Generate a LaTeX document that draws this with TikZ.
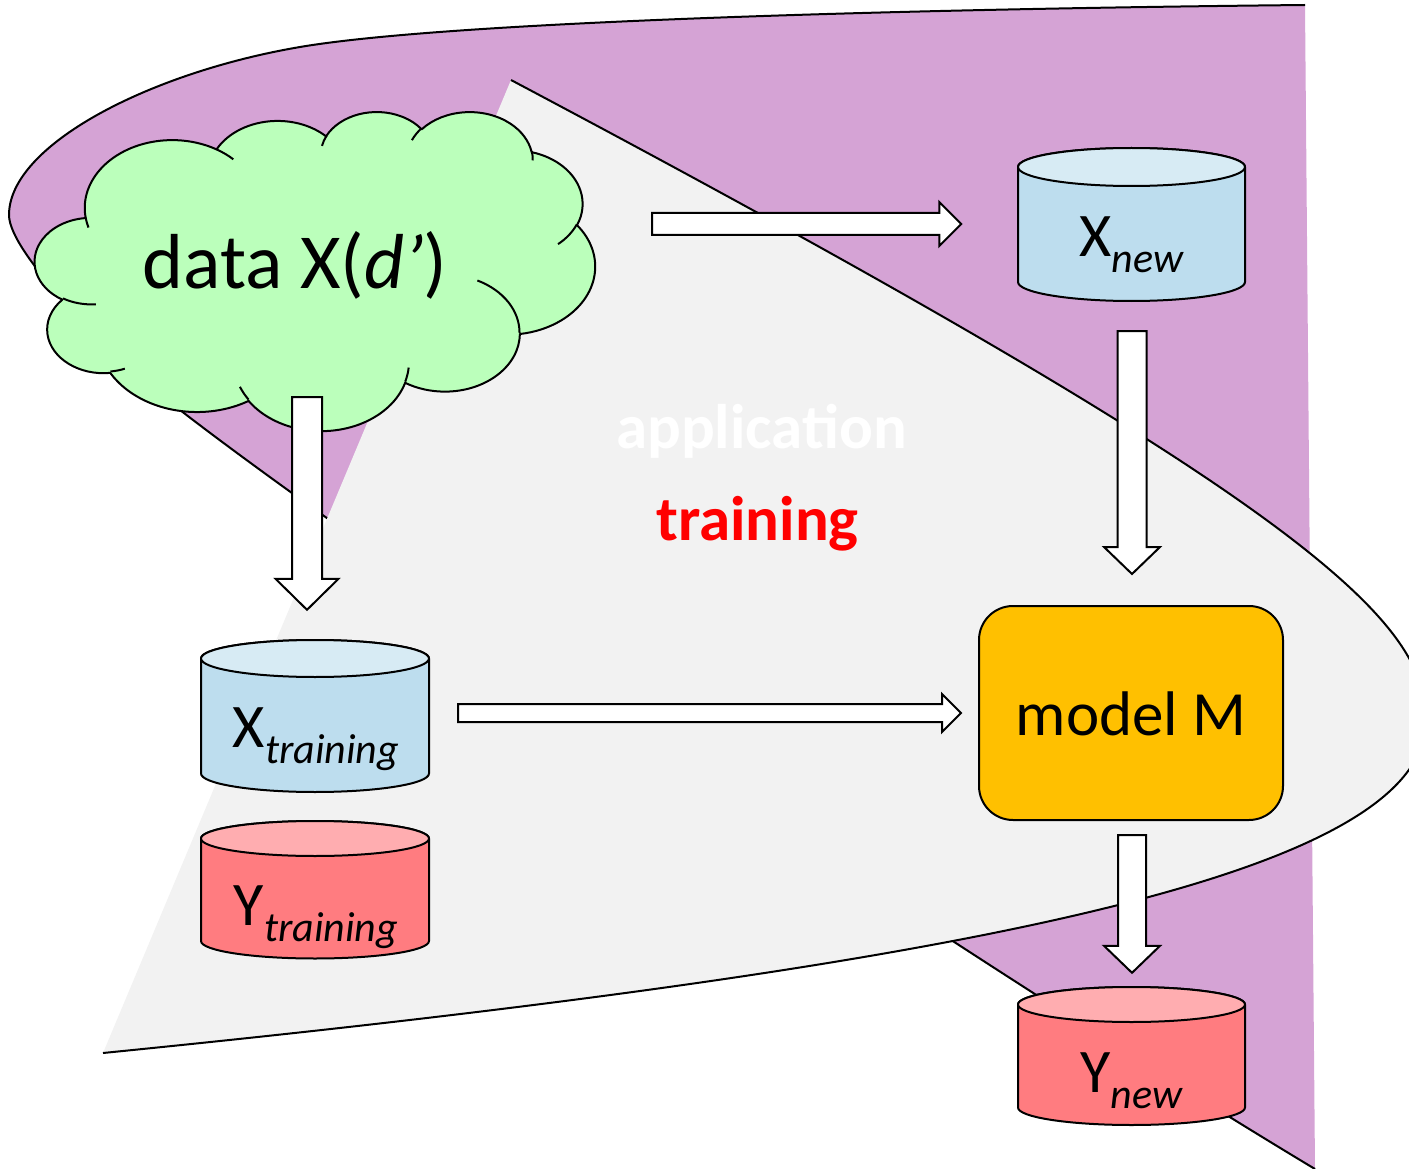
\documentclass[tikz,border=0pt]{standalone}
\usepackage{fontspec}
\setmainfont{Carlito}
\usetikzlibrary{calc}
\definecolor{appl}{HTML}{D5A3D5}
\definecolor{trn}{HTML}{F2F2F2}
\definecolor{cloudg}{HTML}{BBFFBB}
\definecolor{xbody}{HTML}{BDDDEE}
\definecolor{xtop}{HTML}{D7EBF4}
\definecolor{ybody}{HTML}{FF7C80}
\definecolor{ytop}{HTML}{FFADB0}
\definecolor{modelc}{HTML}{FFC000}
\newcommand\pptarc[4]{arc[x radius=#1, y radius=#2, start angle={atan2(#1*sin(#3),#2*cos(#3))}, delta angle={mod(atan2(#1*sin(#3+#4),#2*cos(#3+#4))-atan2(#1*sin(#3),#2*cos(#3))+720,360)}]}
\newcommand\cyl[8]{%
  \node[inner sep=0pt, minimum width={2*#5}, minimum height={#4-#3}] (#1) at ({#2},{(#3+#4)/2}) {};
  \filldraw[fill=#7, ol] ({#2-#5},{#3+#6}) -- ({#2-#5},{#4-#6}) arc[start angle=180, end angle=360, x radius=#5pt, y radius=#6pt] -- ({#2+#5},{#3+#6}) arc[start angle=0, end angle=180, x radius=#5pt, y radius=#6pt] -- cycle;
  \filldraw[fill=#8, ol] ({#2},{#3+#6}) ellipse[x radius=#5pt, y radius=#6pt];
}
\newcommand\blockarrow[5]{%
  \coordinate (ba-h) at ($(#2)!#5!(#1)$);
  \draw[barrow] ($(#1)!#3!90:(#2)$) -- ($(ba-h)!#3!90:(#2)$) -- ($(ba-h)!#4!90:(#2)$) -- (#2) -- ($(ba-h)!#4!-90:(#2)$) -- ($(ba-h)!#3!-90:(#2)$) -- ($(#1)!#3!-90:(#2)$) -- cycle;
}
\newcommand\sub[1]{\raisebox{-16pt}{\fontsize{42}{42}\selectfont\itshape #1}}
\newcommand\applpath{(1305,5) .. controls (905,9) and (450,21.5) .. (300,47) .. controls (150,72.5) and (9,145) .. (9,215) .. controls (9,255) and (120,362.6) .. (180,410) .. controls (400,580) and (1000,980) .. (1315,1169)}
\newcommand\trnpath{(511,80) .. controls (1311,504) and (1426,620) .. (1426,720) .. controls (1426,870) and (1003,963) .. (103,1053)}
\begin{document}
\begin{tikzpicture}[x=1pt,y=-1pt,
  ol/.style={draw=black, line width=2pt, line join=round},
  barrow/.style={draw=black, fill=white, line width=2pt, line join=miter},
  big/.style={font=\fontsize{62}{70}\selectfont, inner sep=0pt, anchor=base}]
\useasboundingbox (0,0) rectangle (1409,1169);
\clip (0,0) rectangle (1409,1169);
% application region
\fill[appl] \applpath -- cycle;
\draw[ol] \applpath;
% training region
\fill[trn] \trnpath -- cycle;
\draw[ol] \trnpath;
\node[inner sep=0pt, anchor=base, text=white, font=\fontsize{63}{70}\selectfont\bfseries] (appt) at (761.5,448) {application};
\node[inner sep=0pt, anchor=base, text=red, font=\fontsize{63}{70}\selectfont\bfseries] (trnt) at (757.5,540) {training};
% cloud
\node[inner sep=0pt, minimum width=560, minimum height=319] (cloud) at (315,270.5) {};
\begin{scope}[shift={(35,111)}, x=0.12963pt, y=-0.073843pt]
\filldraw[fill=cloudg, ol] (390,1437) \pptarc{675.3}{919.0}{-190.4875}{123.7805} \pptarc{533.3}{726.7}{-144.1024}{89.9452} \pptarc{436.5}{594.5}{-145.8079}{99.7230} \pptarc{485.7}{659.5}{-130.9861}{117.2417} \pptarc{533.3}{727.3}{-78.7089}{109.0269} \pptarc{677.5}{922.0}{-46.2673}{130.2690} \pptarc{578.5}{786.7}{0.6250}{114.0333} \pptarc{675.2}{921.5}{22.4516}{115.1726} \pptarc{772.0}{1054.3}{66.2426}{75.7110} \pptarc{436.0}{591.8}{-274.9421}{146.7356} \pptarc{434.5}{594.5}{-246.8285}{152.5189} -- cycle;
\draw[ol] (469.3,2617.7) \pptarc{434.5}{594.5}{86.742}{26.4295}
  (692.8,3489.9) \pptarc{436.0}{591.8}{73.6105}{11.4475}
  (1647.8,3909.0) \pptarc{675.2}{921.5}{137.6242}{14.0811}
  (2882.7,3475.1) \pptarc{675.2}{921.5}{6.4533}{15.9984}
  (3412.9,2295.4) \pptarc{578.5}{786.7}{-70.2924}{70.9174}
  (4179.8,1535.4) \pptarc{533.3}{727.3}{30.3180}{27.7515}
  (3832.4,542.6) \pptarc{485.7}{659.5}{-13.7443}{14.8589}
  (2907.8,395.2) \pptarc{485.7}{659.5}{-149.1815}{18.1954}
  (2214.1,472.0) \pptarc{436.5}{594.5}{-163.4943}{17.6864}
  (1400.0,519.2) \pptarc{675.3}{919.0}{-66.7070}{12.3194}
  (412.7,1578.9) \pptarc{675.3}{919.0}{157.6544}{11.8582};
\end{scope}
\node[inner sep=0pt, anchor=base, font=\fontsize{78}{86}\selectfont] (cloudt) at (295,288) {data X(\textit{d’})};
% cylinders
\cyl{xnew}{1131.5}{148}{301}{113.5}{19}{xbody}{xtop}
\cyl{xtr}{315}{640}{792}{114}{18.5}{xbody}{xtop}
\cyl{ytr}{315}{821}{958.5}{114}{17.5}{ybody}{ytop}
\cyl{ynew}{1131.5}{987}{1125}{113.5}{17.5}{ybody}{ytop}
\node[big] (xnewt) at (1131.5,257) {X\sub{new}};
\node[big] (xtrt) at (316,747) {X\sub{training}};
\node[big] (ytrt) at (316,925) {Y\sub{training}};
\node[big] (ynewt) at (1131.5,1092) {Y\sub{new}};
% model
\node[draw=black, line width=2pt, fill=modelc, rounded corners=34pt, minimum width=304, minimum height=214, inner sep=0pt] (model) at (1131,713) {};
\node[inner sep=0pt, anchor=base, font=\fontsize{63}{70}\selectfont] (modelt) at (1131,735) {model M};
% arrows
\coordinate (a1s) at ($(cloud.east)+(57,-46.5)$);
\coordinate (a1e) at ($(xnew.west)+(-56.5,-0.5)$);
\coordinate (a2s) at ($(cloud.south)+(-8,-33)$);
\coordinate (a2e) at ($(xtr.north)+(-8,-30)$);
\coordinate (a3s) at ($(xnew.south)+(0.5,30)$);
\coordinate (a3e) at ($(model.north)+(1,-31)$);
\coordinate (a4s) at ($(xtr.east)+(29,-3)$);
\coordinate (a4e) at ($(model.west)+(-17,0)$);
\coordinate (a5s) at ($(model.south)+(1,14)$);
\coordinate (a5e) at ($(ynew.north)+(0.5,-14)$);
\blockarrow{a1s}{a1e}{11pt}{22pt}{22pt}
\blockarrow{a2s}{a2e}{15pt}{31.5pt}{31pt}
\blockarrow{a3s}{a3e}{14.5pt}{28pt}{27pt}
\blockarrow{a4s}{a4e}{9pt}{19pt}{19pt}
\blockarrow{a5s}{a5e}{14pt}{28pt}{27pt}
\end{tikzpicture}
\end{document}
